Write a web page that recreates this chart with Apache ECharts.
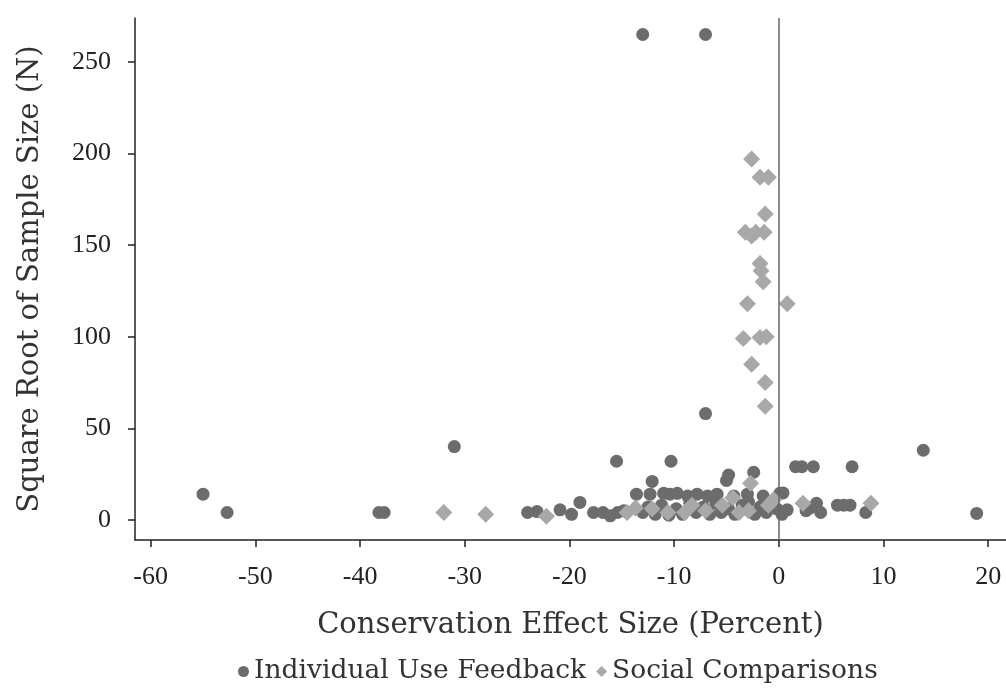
<!DOCTYPE html>
<html>
<head>
<meta charset="utf-8">
<script src="https://cdn.jsdelivr.net/npm/echarts@6/dist/echarts.min.js"></script>
<style>
  html, body { margin: 0; padding: 0; background: #fff; }
  #chart { width: 1006px; height: 689px; }
</style>
</head>
<body>
<div id="chart"></div>
<script>
// x: conservation effect (%), y: sqrt(N)
const feedback = [
  [-13, 265], [-7, 265],
  [-55, 14], [-52.7, 4], [-38.2, 4], [-37.7, 4], [-31, 40],
  [-7, 58], [-15.5, 32], [-10.3, 32], [13.8, 38], [7, 29], [18.9, 3.5], [8.3, 4],
  [1.6, 29], [2.2, 29], [3.3, 29],
  [-12.1, 21], [-12.3, 14], [-4.8, 24.5], [-5, 21.5], [-2.4, 26],
  [-19, 9.5], [-20.9, 5.5], [-19.8, 3], [-24, 4], [-23.1, 4.5],
  [-17.7, 4], [-16.8, 4], [-16.1, 2.2], [-15.4, 4], [-14.8, 5],
  [-13.6, 14], [-11, 14.5], [-10.4, 14], [-9.7, 14.5], [-8.7, 13], [-7.8, 14], [-6.8, 13],
  [-5.9, 14], [-4.3, 13], [-3, 14], [-1.5, 13], [0.1, 14.5],
  [-13, 4], [-12.5, 7], [-11.8, 3], [-11.2, 8], [-10.5, 2.5], [-9.8, 6], [-9.2, 3], [-8.5, 9],
  [-7.9, 4], [-7.2, 7], [-6.6, 3], [-6, 9], [-5.5, 4], [-4.8, 6], [-4.2, 3], [-3.5, 8],
  [-2.9, 10], [-2.3, 3], [-1.8, 7], [-1.2, 4], [-0.6, 10], [-0.2, 6], [0.3, 3],
  [3, 6.5], [3.6, 9], [4, 4], [5.6, 8], [6.2, 8], [6.8, 8], [0.8, 5.5], [0.4, 14.7], [2.6, 5]
]
const social = [
  [-32, 4], [-28, 3], [-22.2, 2],
  [-2.6, 197], [-1.8, 187], [-1.0, 187], [-1.3, 167], [-3.2, 157], [-2.6, 155], [-2.2, 157], [-1.4, 157],
  [-1.8, 140], [-1.7, 136], [-1.5, 130], [-3, 118], [0.8, 118], [-3.4, 99], [-1.8, 99.5], [-1.2, 100],
  [-2.6, 85], [-1.3, 75], [-1.3, 62],
  [-2.7, 20], [-13.7, 6.5], [-12.1, 6], [-10.6, 4], [-8.3, 8], [-5.4, 8], [-4.4, 12], [-2.9, 5],
  [-1, 8], [-0.5, 11], [2.3, 9], [8.8, 9], [-7, 5], [-9, 4], [-3.8, 4], [-14.5, 4]
]
const xTicks = [-60, -50, -40, -30, -20, -10, 0, 10, 20]
const yTicks = [0, 50, 100, 150, 200, 250]

const font = 'Liberation Serif'
const nameFont = 'DejaVu Serif'
const chart = echarts.init(document.getElementById('chart'))

chart.setOption({
  animation: false,
  textStyle: { fontFamily: font },
  grid: { left: 135, right: 0, top: 18, bottom: 149 },
  legend: {
    top: 653,
    left: 233,
    itemWidth: 11,
    itemHeight: 11,
    itemGap: 10,
    textStyle: { fontFamily: nameFont, fontSize: 26.5, color: '#333' },
    data: [
      { name: 'Individual Use Feedback', icon: 'circle' },
      { name: 'Social Comparisons', icon: 'diamond' }
    ]
  },
  xAxis: {
    type: 'value',
    min: -61.5,
    max: 21.7,
    name: 'Conservation Effect Size (Percent)',
    nameLocation: 'middle',
    nameGap: 71,
    nameTextStyle: { fontFamily: nameFont, fontSize: 29, color: '#333' },
    axisLine: { show: true, onZero: false, lineStyle: { color: '#222', width: 1.5 } },
    axisTick: { show: true, length: 7, customValues: xTicks, lineStyle: { color: '#222', width: 1.5 } },
    axisLabel: { customValues: xTicks, fontFamily: font, fontSize: 26, color: '#222', margin: 24 },
    splitLine: { show: false }
  },
  yAxis: {
    type: 'value',
    min: -11,
    max: 274,
    name: 'Square Root of Sample Size (N)',
    nameLocation: 'middle',
    nameGap: 90,
    nameTextStyle: { fontFamily: nameFont, fontSize: 29, color: '#333' },
    axisLine: { show: true, onZero: false, lineStyle: { color: '#222', width: 1.5 } },
    axisTick: { show: true, length: 7, customValues: yTicks, lineStyle: { color: '#222', width: 1.5 } },
    axisLabel: { customValues: yTicks, fontFamily: font, fontSize: 26, color: '#222', margin: 24 },
    splitLine: { show: false }
  },
  series: [
    {
      name: 'Individual Use Feedback',
      type: 'scatter',
      symbol: 'circle',
      symbolSize: 13,
      itemStyle: { color: '#6c6c6c', opacity: 1 },
      data: feedback,
      markLine: {
        silent: true,
        symbol: 'none',
        label: { show: false },
        lineStyle: { color: '#666', width: 1.5, type: 'solid' },
        data: [{ xAxis: 0 }]
      }
    },
    {
      name: 'Social Comparisons',
      type: 'scatter',
      symbol: 'diamond',
      symbolSize: 17,
      itemStyle: { color: '#a8a8a8', opacity: 1 },
      data: social
    }
  ]
})
</script>
</body>
</html>
